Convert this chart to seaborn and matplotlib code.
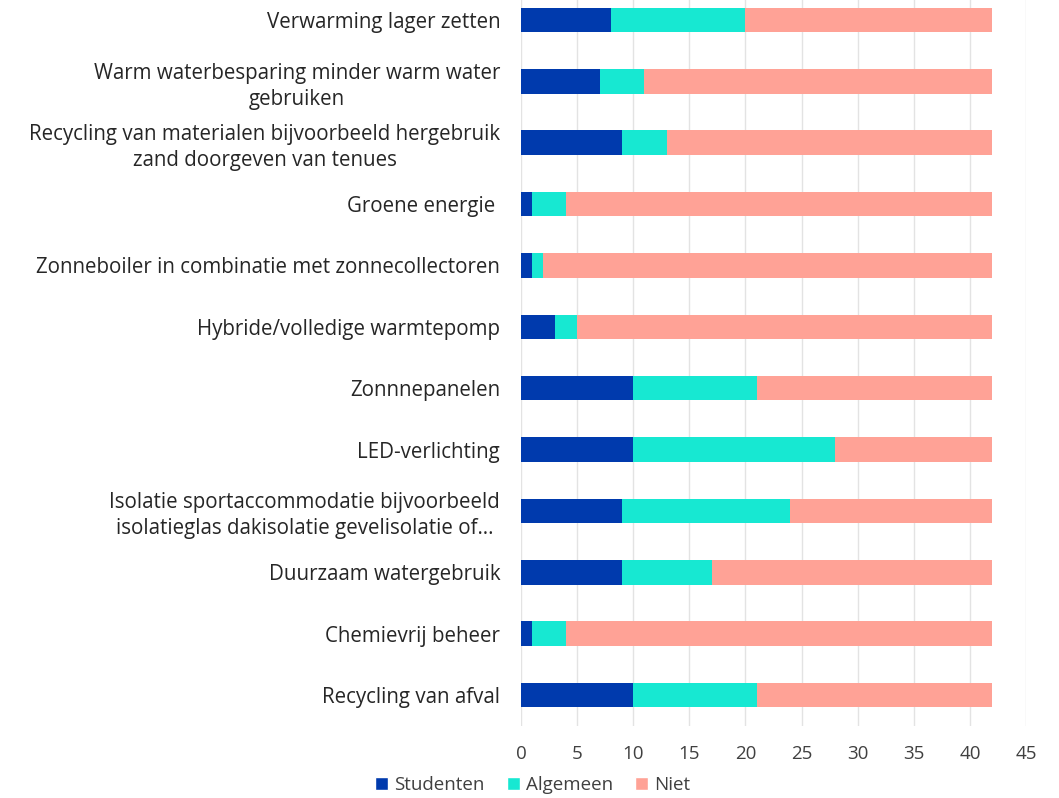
import pandas as pd
import matplotlib
matplotlib.use("Agg")
import matplotlib.pyplot as plt
import seaborn as sns
from matplotlib.patches import Patch

categories = [
    "Verwarming lager zetten",
    "Warm waterbesparing minder warm water\ngebruiken",
    "Recycling van materialen bijvoorbeeld hergebruik\nzand doorgeven van tenues",
    "Groene energie ",
    "Zonneboiler in combinatie met zonnecollectoren",
    "Hybride/volledige warmtepomp",
    "Zonnnepanelen",
    "LED-verlichting",
    "Isolatie sportaccommodatie bijvoorbeeld\nisolatieglas dakisolatie gevelisolatie of…",
    "Duurzaam watergebruik",
    "Chemievrij beheer",
    "Recycling van afval",
]
studenten = [8, 7, 9, 1, 1, 3, 10, 10, 9, 9, 1, 10]
algemeen = [12, 4, 4, 3, 1, 2, 11, 18, 15, 8, 3, 11]
niet = [22, 31, 29, 38, 40, 37, 21, 14, 18, 25, 38, 21]

series = ["Studenten", "Algemeen", "Niet"]
colors = {"Studenten": "#003AAD", "Algemeen": "#17E8D2", "Niet": "#FFA296"}

df = pd.DataFrame({"Categorie": categories, "Studenten": studenten,
                   "Algemeen": algemeen, "Niet": niet})
# cumulative ends for the stacked bars
df["end_Studenten"] = df["Studenten"]
df["end_Algemeen"] = df["Studenten"] + df["Algemeen"]
df["end_Niet"] = df["end_Algemeen"] + df["Niet"]

sns.set_style("white")
plt.rcParams["font.family"] = ["Open Sans", "DejaVu Sans"]

fig = plt.figure(figsize=(10.59, 7.98), dpi=100)
ax = fig.add_axes([0.492, 0.0906, 0.4769, 0.9228])

# draw from longest to shortest so each layer stays visible
for s in reversed(series):
    sns.barplot(data=df, y="Categorie", x="end_" + s, orient="h",
                color=colors[s], width=0.4, ax=ax, saturation=1,
                order=categories, linewidth=0)

ax.set_xlim(0, 45)
ax.set_ylim(11.5, -0.5)
ax.set_xticks(range(0, 46, 5))
ax.set_xlabel("")
ax.set_ylabel("")
ax.xaxis.grid(True, color="#E3E3E3", linewidth=1)
ax.set_axisbelow(True)
for sp in ax.spines.values():
    sp.set_visible(False)
ax.tick_params(axis="x", length=0, pad=14, labelsize=13.5, labelcolor="#404040")
ax.tick_params(axis="y", length=0, pad=15, labelsize=14.8, labelcolor="#262626")
for lbl in ax.get_yticklabels():
    lbl.set_multialignment("center")
    lbl.set_linespacing(1.3)

handles = [Patch(facecolor=colors[s], label=s) for s in series]
fig.legend(handles=handles, loc="center", bbox_to_anchor=(0.503, 0.016),
           ncol=3, frameon=False, fontsize=13.5, handlelength=0.7,
           handleheight=0.7, handletextpad=0.3, columnspacing=1.2,
           labelcolor="#404040")

fig.savefig("out.png", dpi=100)
